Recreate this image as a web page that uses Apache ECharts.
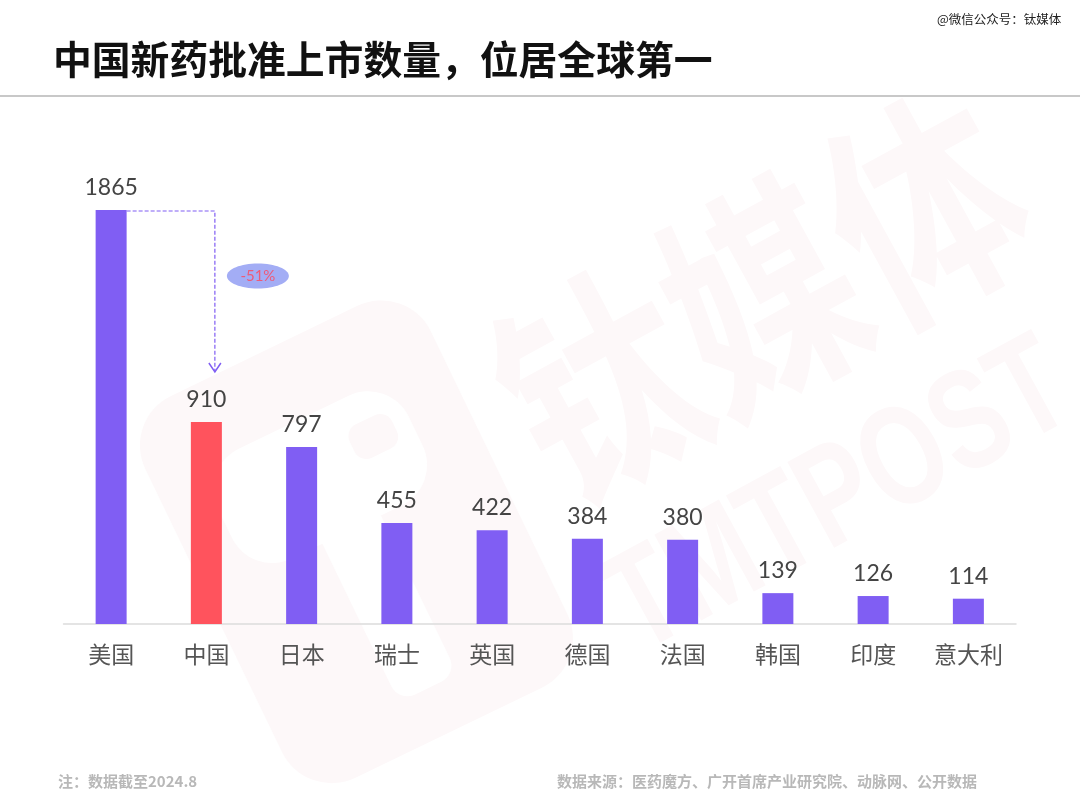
<!DOCTYPE html>
<html>
<head>
<meta charset="utf-8">
<style>
html, body { margin: 0; padding: 0; background: #fff; }
#chart { width: 1080px; height: 810px; }
</style>
<script src="https://cdn.jsdelivr.net/npm/echarts@6/dist/echarts.min.js"></script>
</head>
<body>
<div id="chart"></div>
<script>
var categories = ['美国', '中国', '日本', '瑞士', '英国', '德国', '法国', '韩国', '印度', '意大利']
var approvals = [1865, 910, 797, 455, 422, 384, 380, 139, 126, 114]
var highlightName = '中国'
var dropLabel = '-51%'
var titleText = '中国新药批准上市数量，位居全球第一'
var noteText = '注：数据截至2024.8'
var sourceText = '数据来源：医药魔方、广开首席产业研究院、动脉网、公开数据'
var accountText = '@微信公众号：钛媒体'

var cjkFont = '"Noto Sans CJK SC", "Noto Sans", sans-serif'
var wmColor = '#fdf8f9'
var barColor = '#805ef3'

var myChart = echarts.init(document.getElementById('chart'))
var option

option = {
	animation: false,
	backgroundColor: '#fff',
	grid: { left: 63.5, right: 64, top: 210, bottom: 186 },
	xAxis: {
		type: 'category',
		data: categories,
		axisTick: { show: false },
		axisLine: { lineStyle: { color: '#dcdcdc', width: 1.5 } },
		axisLabel: { color: '#555', fontSize: 23, fontFamily: cjkFont, margin: 19 },
	},
	yAxis: {
		type: 'value',
		min: 0,
		max: 1865,
		show: false,
	},
	series: [
		{
			type: 'bar',
			barWidth: 31,
			z: 3,
			data: approvals.map(function (v, i) {
				return {
					value: v,
					itemStyle: { color: categories[i] === highlightName ? '#ff535d' : barColor },
				}
			}),
			label: {
				show: true,
				position: 'top',
				distance: 11,
				color: '#444',
				fontSize: 23,
				fontFamily: 'Lato, sans-serif',
			},
		},
	],
}

option && myChart.setOption(option)

// 美国到中国的虚线箭头，位置从坐标轴换算
var startTop = myChart.convertToPixel({ yAxisIndex: 0 }, approvals[0])
var startX = myChart.convertToPixel({ xAxisIndex: 0 }, categories[0]) + 15.5
var dropX = myChart.convertToPixel({ xAxisIndex: 0 }, categories[1]) + 8.5
var dropEnd = myChart.convertToPixel({ yAxisIndex: 0 }, approvals[1]) - 50

myChart.setOption({
	graphic: [
		{ type: 'text', z: 10, x: 53, y: 59, style: { text: titleText, fill: '#111', font: 'bold 38.8px ' + cjkFont, verticalAlign: 'middle' } },
		{ type: 'text', z: 10, x: 937, y: 19.5, style: { text: accountText, fill: '#222', font: '12.5px ' + cjkFont, verticalAlign: 'middle' } },
		{ type: 'rect', z: 10, shape: { x: 0, y: 95, width: 1080, height: 2 }, style: { fill: '#c8c8c8' } },
		{ type: 'text', z: 10, x: 58, y: 781, style: { text: noteText, fill: '#b8b8b8', font: 'bold 15px ' + cjkFont, verticalAlign: 'middle' } },
		{ type: 'text', z: 10, x: 557, y: 781, style: { text: sourceText, fill: '#b8b8b8', font: 'bold 15px ' + cjkFont, verticalAlign: 'middle' } },
		// 水印
		{
			type: 'text', z: -1, silent: true, x: 762, y: 297, rotation: 0.5, scaleY: 1.25,
			style: { text: '钛媒体', fill: wmColor, font: 'bold 185px ' + cjkFont, align: 'center', verticalAlign: 'middle' },
		},
		{
			type: 'text', z: -1, silent: true, x: 840, y: 500, rotation: 0.5, scaleY: 1.35,
			style: { text: 'TMTPOST', fill: wmColor, font: 'bold 105px "Liberation Sans", sans-serif', align: 'center', verticalAlign: 'middle' },
		},
		{
			type: 'group', z: -1, silent: true, x: 356, y: 542, rotation: 0.45,
			children: [
				{ type: 'rect', z: -1, shape: { x: -158, y: -212, width: 317, height: 424, r: 55 }, style: { fill: wmColor } },
				{ type: 'rect', z: -1, shape: { x: -110, y: -135, width: 212, height: 122, r: 45 }, style: { fill: '#fff' } },
				{ type: 'rect', z: -1, shape: { x: -31, y: -60, width: 65, height: 223, r: 18 }, style: { fill: '#fff' } },
				{ type: 'rect', z: -1, shape: { x: 38, y: -106, width: 47, height: 37, r: 13 }, style: { fill: wmColor } },
			],
		},
		// 虚线箭头和降幅标签
		{
			type: 'polyline', z: 10,
			shape: { points: [[startX, startTop + 1], [dropX, startTop + 1], [dropX, dropEnd]] },
			style: { stroke: barColor, lineWidth: 1.2, lineDash: [4, 2], fill: null },
		},
		{
			type: 'polyline', z: 10,
			shape: { points: [[dropX - 6, dropEnd - 9], [dropX, dropEnd], [dropX + 6, dropEnd - 9]] },
			style: { stroke: barColor, lineWidth: 1.5, fill: null },
		},
		{ type: 'ellipse', z: 10, shape: { cx: dropX + 43, cy: 276, rx: 31, ry: 12.5 }, style: { fill: '#a3adf5' } },
		{
			type: 'text', z: 11, x: dropX + 43, y: 276,
			style: { text: dropLabel, fill: '#ee5a78', font: '15px Lato, sans-serif', align: 'center', verticalAlign: 'middle' },
		},
	],
})
</script>
</body>
</html>
